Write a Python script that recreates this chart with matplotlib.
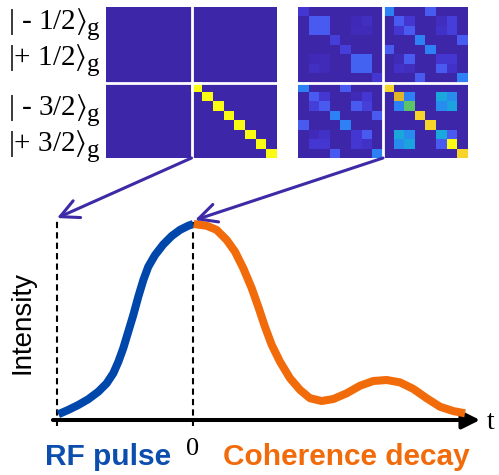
import numpy as np
import matplotlib.pyplot as plt
from matplotlib.colors import LinearSegmentedColormap
from matplotlib.patches import ConnectionPatch

plt.rcParams['mathtext.fontset'] = 'stix'

W, H = 499, 475

# kets next to the density matrices
ket_labels = ["| - 1/2", "|+ 1/2", "| - 3/2", "|+ 3/2"]
ket_baselines = [29, 65, 115, 151]

# ideal matrix: only the 3/2 block diagonal is populated
ideal_diag = [1, 1, 1, 1, 1, 1, 1, 1]

measured = [
    [.10, 0, 0, 0, 0, 0, 0, 0, .28, 0, 0, 0, .18, 0, 0, 0],
    [0, .18, .18, 0, 0, .04, .07, 0, 0, .18, .10, 0, 0, .06, .12, 0],
    [0, .18, .18, 0, 0, .05, .05, 0, 0, .10, .18, 0, 0, .08, .12, 0],
    [0, 0, 0, .12, 0, 0, 0, 0, 0, 0, 0, .28, 0, 0, 0, .18],
    [0, 0, 0, 0, .12, 0, 0, 0, .18, 0, 0, 0, .28, 0, 0, 0],
    [0, .04, .05, 0, 0, .20, .20, 0, 0, .05, .18, 0, 0, .10, .10, 0],
    [0, .07, .05, 0, 0, .20, .20, 0, 0, .08, .06, 0, 0, .18, .08, 0],
    [0, 0, 0, 0, 0, 0, 0, .10, 0, 0, 0, .18, 0, 0, 0, .28],
    [.28, 0, 0, 0, .18, 0, 0, 0, .85, 0, 0, 0, 0, 0, 0, 0],
    [0, .18, .10, 0, 0, .05, .10, 0, 0, .75, .28, 0, 0, .42, .32, 0],
    [0, .12, .18, 0, 0, .18, .12, 0, 0, .28, .60, 0, 0, .32, .40, 0],
    [0, 0, 0, .28, 0, 0, 0, .18, 0, 0, 0, .85, 0, 0, 0, 0],
    [.18, 0, 0, 0, .28, 0, 0, 0, 0, 0, 0, 0, .85, 0, 0, 0],
    [0, .05, .08, 0, 0, .10, .18, 0, 0, .42, .32, 0, 0, .42, .18, 0],
    [0, .10, .10, 0, 0, .10, .08, 0, 0, .32, .40, 0, 0, .18, 1.0, 0],
    [0, 0, 0, .18, 0, 0, 0, .28, 0, 0, 0, 0, 0, 0, 0, .85],
]

# pulse (rising part, t < 0) and coherence decay (t > 0)
pulse_t = [-0.990, -0.917, -0.843, -0.770, -0.696, -0.635, -0.586, -0.549, -0.513, -0.476,
           -0.439, -0.402, -0.365, -0.329, -0.279, -0.218, -0.157, -0.096, -0.035, 0.002]
pulse_I = [0.029, 0.051, 0.076, 0.105, 0.143, 0.185, 0.236, 0.294, 0.362, 0.446,
           0.530, 0.623, 0.707, 0.774, 0.833, 0.887, 0.929, 0.960, 0.981, 0.990]
decay_t = [0.005, 0.101, 0.174, 0.248, 0.309, 0.370, 0.432, 0.480, 0.529, 0.579, 0.640, 0.713,
           0.787, 0.860, 0.946, 1.032, 1.130, 1.228, 1.326, 1.424, 1.522, 1.620, 1.718,
           1.816, 1.914, 2.000]
decay_I = [0.990, 0.981, 0.960, 0.909, 0.850, 0.766, 0.665, 0.572, 0.471, 0.379, 0.294, 0.211,
           0.152, 0.110, 0.096, 0.106, 0.135, 0.173, 0.197, 0.202, 0.190, 0.157, 0.110,
           0.067, 0.045, 0.034]

blue = '#0047ab'
orange = '#f26b0b'
purple = '#3c2aa6'

# parula-like map
cmap = LinearSegmentedColormap.from_list('parula_ish', [
    (0.00, '#3e26a8'), (0.05, '#412bba'), (0.10, '#4437d2'), (0.18, '#4a5af0'),
    (0.28, '#2d82f5'), (0.42, '#1aa8dc'), (0.60, '#5cc46a'), (0.75, '#e0b52a'),
    (0.85, '#f7d42a'), (1.00, '#f9fb14')])


def px_box(x0, y0, x1, y1):
    return [x0 / W, 1 - y1 / H, (x1 - x0) / W, (y1 - y0) / H]


fig = plt.figure(figsize=(W / 100, H / 100), dpi=100)

ideal = np.zeros((16, 16))
ideal[8:, 8:] = np.diag(ideal_diag)

mat_axes = []
for box, m in [((106, 7, 277, 158), ideal), ((298, 7, 468, 158), np.array(measured))]:
    a = fig.add_axes(px_box(*box))
    a.imshow(m, cmap=cmap, vmin=0, vmax=1, aspect='auto', interpolation='nearest')
    a.axvline(7.5, color='white', lw=2)
    a.axhline(7.5, color='white', lw=2)
    a.set_axis_off()
    mat_axes.append(a)

for lab, b in zip(ket_labels, ket_baselines):
    fig.text(8 / W, 1 - b / H, lab + r"$\rangle$", family='Liberation Serif',
             fontsize=21, va='baseline', ha='left')
    fig.text(87 / W, 1 - (b + 6) / H, 'g', family='Liberation Serif',
             fontsize=18, va='baseline', ha='left')

# bottom panel, t=0 at the peak
ax = fig.add_axes([0, 0, 1, 275 / H])
ax.set_xlim(-193 / 136, 306 / 136)
ax.set_ylim(-55 / 198, 220 / 198)
ax.set_axis_off()

ax.annotate('', xy=(2.11, 0), xytext=(-1.03, 0),
            arrowprops=dict(arrowstyle='-|>', color='k', lw=2.9, mutation_scale=27,
                            shrinkA=0, shrinkB=0))
ax.plot([-1, -1], [-0.03, 1.02], color='k', lw=1.5, dashes=(3, 2))
ax.plot([0, 0], [-0.03, 1.0], color='k', lw=1.5, dashes=(3, 2))

ax.plot(pulse_t, pulse_I, color=blue, lw=5.8, solid_capstyle='butt', solid_joinstyle='round', zorder=3)
ax.plot(decay_t, decay_I, color=orange, lw=5.8, solid_capstyle='butt', solid_joinstyle='round', zorder=3)

ax.text(2.19, -0.045, 't', family='Liberation Serif', fontsize=20, ha='center', va='baseline')
ax.text(0, -0.177, '0', family='Liberation Serif', fontsize=19, ha='center', va='baseline')
ax.text(-1.088, -0.227, 'RF pulse', family='Liberation Sans', fontweight='bold', fontsize=21.5,
        color='#0c4eae', ha='left', va='baseline')
ax.text(0.22, -0.227, 'Coherence decay', family='Liberation Sans', fontweight='bold', fontsize=21.5,
        color=orange, ha='left', va='baseline')
fig.text(23 / W, 1 - 322 / H, 'Intensity', family='Liberation Sans', fontsize=20,
         rotation=90, ha='center', va='center')

# arrows from the matrices down to the time markers
for a, tip in [(mat_axes[0], (-1.0, 1.02)), (mat_axes[1], (0.015, 1.01))]:
    con = ConnectionPatch(xyA=(7.5, 15.5), coordsA=a.transData, xyB=tip, coordsB=ax.transData,
                          arrowstyle='->,head_length=0.6,head_width=0.3', mutation_scale=22,
                          color=purple, lw=2.2)
    fig.add_artist(con)

fig.savefig('out.png', dpi=100)
